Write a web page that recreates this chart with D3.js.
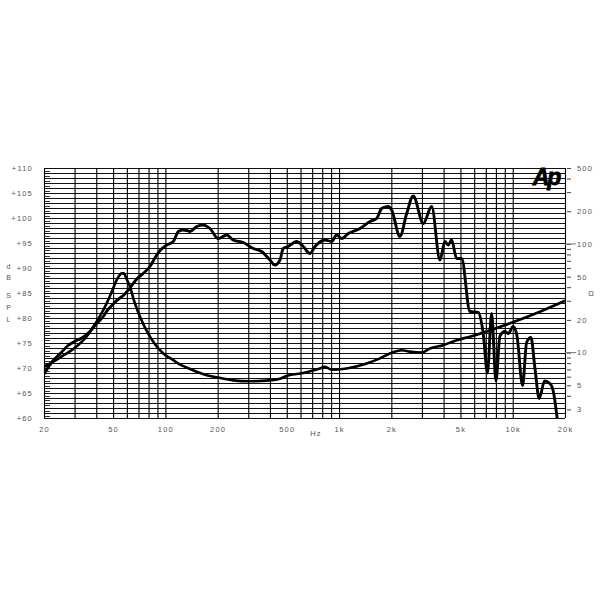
<!DOCTYPE html>
<html>
<head>
<meta charset="utf-8">
<script src="https://cdn.jsdelivr.net/npm/d3@7"></script>
<style>
  html, body { margin: 0; padding: 0; background: #fff; }
  svg { display: block; }
  text { font-family: "Liberation Sans", Arial, sans-serif; }
</style>
</head>
<body>
<svg id="chart" width="600" height="600"></svg>
<script>
// ---------------- data ----------------
// SPL response (frequency in Hz, level in dB SPL)
const splFreq = [20, 22, 25, 27.5, 30, 33, 36.8, 40, 43.9, 46.5, 50, 54.6, 57.2, 62.5, 68.4, 75, 81.5, 89.1, 95, 101.7,
  111, 118.7, 126, 132.6, 138.5, 151.4, 165.3, 172, 180.6, 201.6, 225.5, 245.9, 280.8, 320.7, 358.4, 400, 427.5, 456.8,
  477, 510, 570, 622, 680, 727, 830, 907, 968, 1035, 1130, 1320, 1506, 1646, 1759, 1850, 1919, 2008, 2242, 2451, 2674,
  3054, 3414, 3810, 4071, 4253, 4449, 4753, 5080, 5670, 6330, 6763, 7150, 7560, 8005, 8440, 9016, 9420, 10070, 10570,
  11400, 12020, 12730, 13420, 14210, 15260, 16370, 17110, 18090];
const splDb = [68.8, 71.0, 73.0, 74.5, 75.3, 76.0, 77.3, 78.8, 80.3, 81.6, 82.8, 84.0, 84.5, 86.0, 87.8, 89.0, 90.3, 92.6, 93.8, 94.6,
  95.3, 97.3, 97.6, 97.5, 97.3, 98.3, 98.6, 98.4, 97.9, 95.9, 96.6, 95.6, 95.1, 93.9, 93.3, 91.6, 90.6, 91.6,
  93.9, 94.3, 95.3, 94.3, 92.9, 94.3, 95.6, 95.3, 96.6, 95.9, 96.9, 97.9, 99.3, 99.9, 101.9, 102.2, 102.3, 101.6, 96.3, 100.9, 104.4,
  98.9, 102.3, 91.6, 95.3, 94.6, 95.6, 91.9, 91.9, 81.3, 81.1, 76.9, 69.0, 80.9, 67.4, 76.4, 77.3, 76.9, 78.3, 76.5,
  66.5, 75.1, 76.1, 70.0, 63.9, 67.4, 66.9, 65.4, 59.5];

// Impedance (frequency in Hz, magnitude in ohms)
const zFreq = [20, 25, 30, 35, 39, 42, 45.9, 49, 52.4, 54.5, 56, 57.6, 60, 62.5, 66, 71.4, 81.5, 97.3, 110, 121,
  135, 150, 173, 200, 246, 307, 400, 457, 499, 622, 776, 830, 907, 1106, 1442, 1720, 1963, 2292, 2559, 2989, 3337,
  3980, 4753, 5670, 9636, 14340, 20000];
const zOhm = [7.4, 9.1, 11.0, 13.9, 17.9, 21.7, 28.4, 36, 46.5, 51.7, 53.6, 53.6, 47, 40.4, 30, 21.4, 14.0, 9.8, 8.6, 7.8,
  7.2, 6.7, 6.2, 5.9, 5.55, 5.45, 5.55, 5.75, 6.1, 6.5, 7.15, 7.4, 6.95, 7.15, 7.95, 8.85, 9.8, 10.5, 10.2, 10.0, 10.9,
  11.7, 13.0, 14.0, 18.6, 23.8, 30.0];

// axis labels
const freqTickValues = [20, 50, 100, 200, 500, 1000, 2000, 5000, 10000, 20000];
const freqTickLabels = ["20", "50", "100", "200", "500", "1k", "2k", "5k", "10k", "20k"];
const dbTickValues = [60, 65, 70, 75, 80, 85, 90, 95, 100, 105, 110];
const ohmTickValues = [3, 5, 10, 20, 50, 100, 200, 500];
const leftTitle = ["d", "B", "S", "P", "L"];

// ---------------- layout ----------------
const L = 44, R = 565, T = 168, B = 418;
const svg = d3.select("#chart");

const x = d3.scaleLog().domain([20, 20000]).range([L, R]);
const y = d3.scaleLinear().domain([60, 110]).range([B, T]);
const yZ = d3.scaleLog().domain([2.5, 500]).range([B, T]);

const labelFill = "#555";
const labelSize = "7.5px";

// horizontal grid (1 dB)
const hGrid = svg.append("g");
hGrid.selectAll("line").data(d3.range(60, 111, 1)).join("line")
  .attr("x1", L).attr("x2", R)
  .attr("y1", d => Math.round(y(d)) + 0.5).attr("y2", d => Math.round(y(d)) + 0.5)
  .attr("stroke", "#111").attr("stroke-width", 1);

// left edge minor stubs (0.5 dB)
svg.append("g").selectAll("line").data(d3.range(60.5, 110, 1)).join("line")
  .attr("x1", L).attr("x2", L + 6)
  .attr("y1", d => Math.round(y(d)) + 0.5).attr("y2", d => Math.round(y(d)) + 0.5)
  .attr("stroke", "#333").attr("stroke-width", 1);

// vertical grid via axis
const vGrid = svg.append("g").attr("transform", `translate(0,${B})`)
  .call(d3.axisBottom(x).tickValues(x.ticks()).tickSize(-(B - T)).tickFormat(""));
vGrid.select(".domain").remove();
vGrid.selectAll(".tick line").attr("stroke", "#000").attr("stroke-width", 1.1);

// bottom labels
const xAxis = svg.append("g").attr("transform", `translate(0,${B + 4})`)
  .call(d3.axisBottom(x).tickValues(freqTickValues).tickSize(0)
    .tickFormat((d, i) => freqTickLabels[i]));
xAxis.select(".domain").remove();
xAxis.selectAll("text").attr("fill", labelFill).style("font-size", labelSize)
  .style("letter-spacing", "1.2px").attr("dy", "0.9em");

svg.append("text").attr("x", 316).attr("y", 436).attr("text-anchor", "middle")
  .attr("fill", labelFill).style("font-size", labelSize).style("letter-spacing", "1.2px").text("Hz");

// left labels
const yAxis = svg.append("g").attr("transform", `translate(${L - 8},0)`)
  .call(d3.axisLeft(y).tickValues(dbTickValues).tickSize(0).tickFormat(d => "+" + d));
yAxis.select(".domain").remove();
yAxis.selectAll("text").attr("fill", labelFill).style("font-size", labelSize).style("letter-spacing", "1.2px");

// left title, stacked letters
svg.append("g").selectAll("text").data(leftTitle).join("text")
  .attr("x", 8.5).attr("y", (d, i) => [269, 280, 298, 310, 322][i])
  .attr("text-anchor", "middle").attr("fill", labelFill).style("font-size", "7px").text(d => d);

// right axis: minor ticks
const zMinor = svg.append("g").attr("transform", `translate(${R},0)`)
  .call(d3.axisRight(yZ).tickValues(yZ.ticks()).tickSize(6).tickFormat(""));
zMinor.select(".domain").remove();
zMinor.selectAll(".tick line").attr("stroke", "#444").attr("x1", 2);

// right axis labels
const zAxis = svg.append("g").attr("transform", `translate(${R},0)`)
  .call(d3.axisRight(yZ).tickValues(ohmTickValues).tickSize(0).tickFormat(d3.format("d")));
zAxis.select(".domain").remove();
zAxis.selectAll("text").attr("x", 12).attr("fill", labelFill).style("font-size", labelSize).style("letter-spacing", "1.2px");
// long ticks at 10 and 100
svg.append("g").selectAll("line").data([10, 100]).join("line")
  .attr("x1", R).attr("x2", R + 11)
  .attr("y1", d => yZ(d)).attr("y2", d => yZ(d)).attr("stroke", "#777").attr("stroke-width", 1);

svg.append("text").attr("x", 591).attr("y", 296).attr("text-anchor", "middle")
  .attr("fill", labelFill).style("font-size", "7.5px").text("Ω");

// Ap logo
svg.append("text").attr("x", 546).attr("y", 185).attr("text-anchor", "middle")
  .style("font-size", "23px").style("font-weight", "900").style("font-style", "italic")
  .style("letter-spacing", "-2px").attr("fill", "#000")
  .attr("stroke", "#000").attr("stroke-width", 0.8).text("Ap");

// clip
svg.append("clipPath").attr("id", "plotClip").append("rect")
  .attr("x", L).attr("y", T - 2).attr("width", R - L).attr("height", B - T + 2);

// curves
const splLine = d3.line().x(d => x(d[0])).y(d => y(d[1])).curve(d3.curveMonotoneX);
const zLine = d3.line().x(d => x(d[0])).y(d => yZ(d[1])).curve(d3.curveMonotoneX);

svg.append("path").datum(zFreq.map((f, i) => [f, zOhm[i]]))
  .attr("d", zLine).attr("fill", "none").attr("stroke", "#000")
  .attr("stroke-width", 2.6).attr("stroke-linejoin", "round").attr("clip-path", "url(#plotClip)");

svg.append("path").datum(splFreq.map((f, i) => [f, splDb[i]]))
  .attr("d", splLine).attr("fill", "none").attr("stroke", "#000")
  .attr("stroke-width", 2.9).attr("stroke-linejoin", "round").attr("clip-path", "url(#plotClip)");
</script>
</body>
</html>
